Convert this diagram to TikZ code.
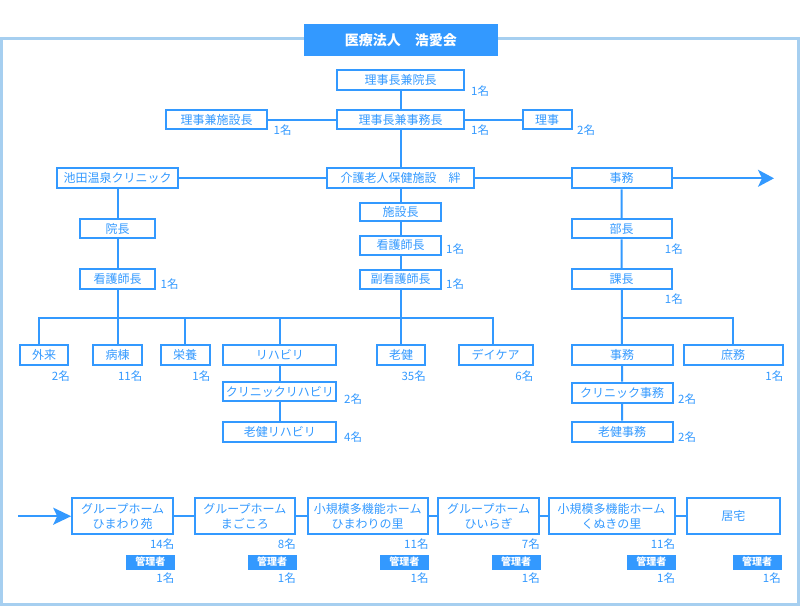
\documentclass[tikz,border=0pt]{standalone}
\usepackage{fontspec}
\setmainfont{Noto Sans CJK JP}
\usetikzlibrary{arrows.meta}

\begin{document}
\begin{tikzpicture}[x=1pt,y=-1pt,
    orgbox/.style={shape=rectangle,draw=kouai_blue,line width=2pt,text=kouai_blue,inner sep=0pt,align=center,font=\fontsize{12}{14.5}\selectfont},
    cnt/.style={text=kouai_blue,inner sep=0pt,font=\fontsize{11.5}{13}\selectfont},
    tagbox/.style={shape=rectangle,fill=kouai_blue,text=white,inner sep=0pt,minimum width=49pt,minimum height=15pt,font=\fontsize{10}{12}\selectfont\bfseries},
    link/.style={draw=kouai_blue,line width=2pt}]
    \definecolor{kouai_blue}{RGB}{51,153,255}
    \definecolor{kouai_frame}{RGB}{166,207,240}
    \useasboundingbox (0,0) rectangle (800,606);
    \draw[draw=kouai_frame,line width=3pt] (1.5,38.5) rectangle (798.5,604.5);
    \node[shape=rectangle,fill=kouai_blue,text=white,minimum width=194pt,minimum height=32pt,font=\fontsize{14}{16}\selectfont\bfseries] (title) at (400.8,39.8) {医療法人　浩愛会};

    % top
    \node[orgbox,minimum width=127pt,minimum height=20pt] (top) at (400.5,80.2) {理事長兼院長};
    \node[cnt,anchor=west] at (471,90.7) {1名};
    \node[orgbox,minimum width=101pt,minimum height=19pt] (vice) at (216.5,119.7) {理事兼施設長};
    \node[cnt,anchor=west] at (273.5,130) {1名};
    \node[orgbox,minimum width=127pt,minimum height=19pt] (jimucho) at (400.5,119.7) {理事長兼事務長};
    \node[cnt,anchor=west] at (471,130) {1名};
    \node[orgbox,minimum width=49pt,minimum height=19pt] (riji) at (547.2,119.7) {理事};
    \node[cnt,anchor=west] at (577,130) {2名};

    % three branches
    \node[orgbox,minimum width=121pt,minimum height=20pt] (clinic) at (117.5,178.3) {池田温泉クリニック};
    \node[orgbox,minimum width=147pt,minimum height=20pt] (kaigo) at (400.5,178.3) {介護老人保健施設　絆};
    \node[orgbox,minimum width=100pt,minimum height=20pt] (jimu) at (621.7,178.3) {事務};
    \coordinate (jimu_arrow) at (774,178.3);

    \node[orgbox,minimum width=75pt,minimum height=19pt] (incho) at (117.5,228.8) {院長};
    \node[orgbox,minimum width=75pt,minimum height=20pt] (kango_c) at (117.5,279.2) {看護師長};
    \node[cnt,anchor=west] at (160.5,284) {1名};

    \node[orgbox,minimum width=81pt,minimum height=18pt] (shisetsucho) at (400.5,211.7) {施設長};
    \node[orgbox,minimum width=81pt,minimum height=19pt] (kango_k) at (400.5,245.3) {看護師長};
    \node[cnt,anchor=west] at (446,249) {1名};
    \node[orgbox,minimum width=81pt,minimum height=19pt] (fukukango) at (400.5,279.3) {副看護師長};
    \node[cnt,anchor=west] at (446,284) {1名};

    \node[orgbox,minimum width=100pt,minimum height=19pt] (bucho) at (621.7,228.8) {部長};
    \node[cnt,anchor=east] at (683,249) {1名};
    \node[orgbox,minimum width=100pt,minimum height=20pt] (kacho) at (621.7,279.2) {課長};
    \node[cnt,anchor=east] at (683,299) {1名};

    % sections
    \coordinate (bus_l) at (38.7,317.7);
    \coordinate (bus_r) at (492.7,317.7);
    \coordinate (bus2_r) at (732.7,317.7);
    \node[orgbox,minimum width=48pt,minimum height=20pt] (gairai) at (44.2,355.2) {外来};
    \node[cnt,anchor=east] at (70,376) {2名};
    \node[orgbox,minimum width=49pt,minimum height=20pt] (byoto) at (117.5,355.2) {病棟};
    \node[cnt,anchor=east] at (142.5,376) {11名};
    \node[orgbox,minimum width=49pt,minimum height=20pt] (eiyo) at (185,355.2) {栄養};
    \node[cnt,anchor=east] at (210.5,376) {1名};
    \node[orgbox,minimum width=113pt,minimum height=20pt] (reha) at (279.8,355.2) {リハビリ};
    \node[orgbox,minimum width=48pt,minimum height=20pt] (roken) at (401,355.2) {老健};
    \node[cnt,anchor=east] at (426,376) {35名};
    \node[orgbox,minimum width=74pt,minimum height=20pt] (daycare) at (495.5,355.2) {デイケア};
    \node[cnt,anchor=east] at (533.5,376) {6名};
    \node[orgbox,minimum width=101pt,minimum height=20pt] (jimu2) at (622,355.2) {事務};
    \node[orgbox,minimum width=99pt,minimum height=20pt] (shomu) at (733,355.2) {庶務};
    \node[cnt,anchor=east] at (783.5,376) {1名};

    \node[orgbox,minimum width=113pt,minimum height=19pt] (creha) at (279.8,391.5) {クリニックリハビリ};
    \node[cnt,anchor=west] at (344,399.3) {2名};
    \node[orgbox,minimum width=113pt,minimum height=20pt] (rreha) at (279.8,431.5) {老健リハビリ};
    \node[cnt,anchor=west] at (344,437.3) {4名};
    \node[orgbox,minimum width=101pt,minimum height=20pt] (cjimu) at (622,392.5) {クリニック事務};
    \node[cnt,anchor=west] at (678,399) {2名};
    \node[orgbox,minimum width=101pt,minimum height=20pt] (rjimu) at (622,431.5) {老健事務};
    \node[cnt,anchor=west] at (678,437.3) {2名};

    % homes
    \coordinate (home_in) at (18.3,516.2);
    \node[orgbox,minimum width=101pt,minimum height=36pt] (g1) at (122.7,516.2) {グループホーム\\ひまわり苑};
    \node[cnt,anchor=east] at (174.5,544.3) {14名};
    \node[tagbox,anchor=east] (g1_tag) at (175,562) {管理者};
    \node[cnt,anchor=east] at (174.5,578.3) {1名};
    \node[orgbox,minimum width=100pt,minimum height=36pt] (g2) at (244.8,516.2) {グループホーム\\まごころ};
    \node[cnt,anchor=east] at (296,544.3) {8名};
    \node[tagbox,anchor=east] (g2_tag) at (296.7,562) {管理者};
    \node[cnt,anchor=east] at (296,578.3) {1名};
    \node[orgbox,minimum width=120pt,minimum height=36pt] (g3) at (367.7,516.2) {小規模多機能ホーム\\ひまわりの里};
    \node[cnt,anchor=east] at (428.7,544.3) {11名};
    \node[tagbox,anchor=east] (g3_tag) at (429,562) {管理者};
    \node[cnt,anchor=east] at (428.7,578.3) {1名};
    \node[orgbox,minimum width=101pt,minimum height=36pt] (g4) at (488.7,516.2) {グループホーム\\ひいらぎ};
    \node[cnt,anchor=east] at (540,544.3) {7名};
    \node[tagbox,anchor=east] (g4_tag) at (540.7,562) {管理者};
    \node[cnt,anchor=east] at (540,578.3) {1名};
    \node[orgbox,minimum width=126pt,minimum height=36pt] (g5) at (611.5,516.2) {小規模多機能ホーム\\くぬきの里};
    \node[cnt,anchor=east] at (675.3,544.3) {11名};
    \node[tagbox,anchor=east] (g5_tag) at (676,562) {管理者};
    \node[cnt,anchor=east] at (675.3,578.3) {1名};
    \node[orgbox,minimum width=93pt,minimum height=36pt] (g6) at (733.3,516.2) {居宅};
    \node[tagbox,anchor=east] (g6_tag) at (781.7,562) {管理者};
    \node[cnt,anchor=east] at (781,578.3) {1名};

    % lines
    \draw[link] (top) -- (jimucho) -- (kaigo) -- (shisetsucho) -- (kango_k) -- (fukukango);
    \draw[link] (vice) -- (jimucho) -- (riji);
    \draw[link] (clinic) -- (kaigo) -- (jimu);
    \draw[link,-{Stealth[length=16pt,width=17pt,inset=4pt]}] (jimu) -- (jimu_arrow);
    \draw[link] (clinic) -- (incho) -- (kango_c);
    \draw[link] (jimu) -- (bucho) -- (kacho) -- (jimu2) -- (cjimu) -- (rjimu);
    \draw[link] (kacho.south |- bus2_r) -| (shomu.north);
    \draw[link] (gairai.north -| bus_l) |- (bus_r) -- (bus_r |- daycare.north);
    \draw[link] (kango_c.south) -- (kango_c.south |- bus_l);
    \draw[link] (fukukango.south) -- (fukukango.south |- roken.north);
    \draw[link] (byoto.north |- bus_l) -- (byoto.north);
    \draw[link] (eiyo.north |- bus_l) -- (eiyo.north);
    \draw[link] (reha.north |- bus_l) -- (reha.north);
    \draw[link] (reha) -- (creha) -- (rreha);
    \draw[link,-{Stealth[length=18pt,width=17pt,inset=4pt]}] (home_in) -- (g1);
    \draw[link] (g1) -- (g2) -- (g3) -- (g4) -- (g5) -- (g6);
\end{tikzpicture}
\end{document}
